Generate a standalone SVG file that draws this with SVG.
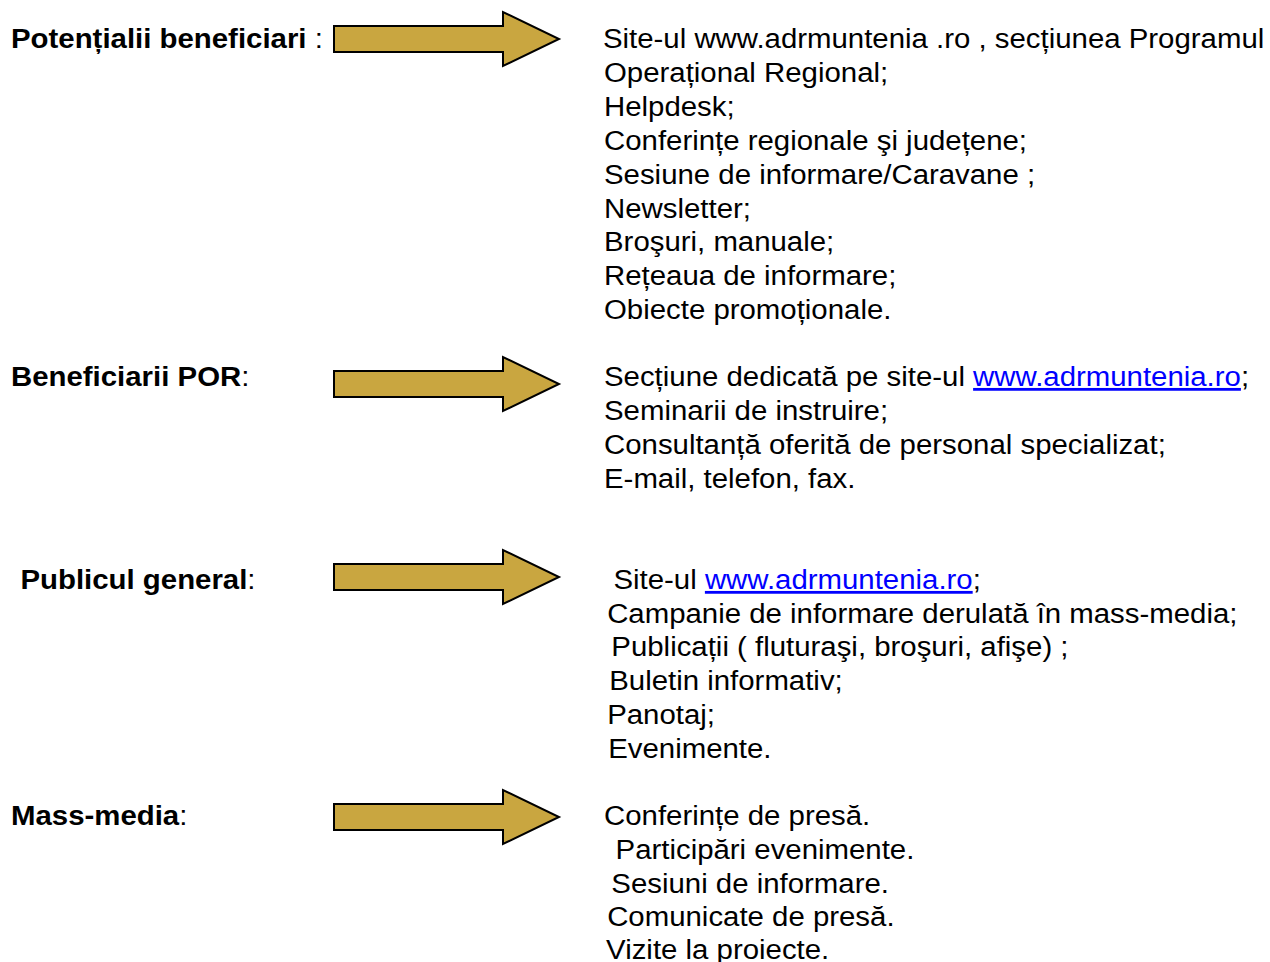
<svg xmlns="http://www.w3.org/2000/svg" width="1270" height="962" viewBox="0 0 1270 962">
<style>
text{font-family:"Liberation Sans",Arial,sans-serif;font-size:28px;fill:#000}
.b{font-weight:bold}
.lnk{fill:#0000FF;text-decoration:underline}
.arrow{fill:#C9A640;stroke:#000;stroke-width:2;stroke-linejoin:miter}
</style>
<defs>
<polygon id="arr" points="334,-13 503,-13 503,-27 559,0 503,27 503,13 334,13"/>
</defs>
<rect width="1270" height="962" fill="#fff"/>
<g id="connectors">
<use href="#arr" class="arrow" transform="translate(0,39)"/>
<use href="#arr" class="arrow" transform="translate(0,384)"/>
<use href="#arr" class="arrow" transform="translate(0,577)"/>
<use href="#arr" class="arrow" transform="translate(0,817)"/>
</g>
<g transform="matrix(1.05 0 0 1 -0.55 0)">
<g id="label-potentiali"><text x="11" y="48"><tspan class="b">Potențialii beneficiari</tspan> :</text></g>
<g id="label-beneficiari"><text x="11" y="386"><tspan class="b">Beneficiarii POR</tspan>:</text></g>
<g id="label-public"><text x="20" y="589"><tspan class="b">Publicul general</tspan>:</text></g>
<g id="label-media"><text x="11" y="825"><tspan class="b">Mass-media</tspan>:</text></g>
</g>
<g transform="matrix(1.05 0 0 1 -30.2 0)">
<g id="list-potentiali">
<text x="603" y="48">Site-ul www.adrmuntenia .ro , secțiunea Programul</text>
<text x="604" y="82">Operațional Regional;</text>
<text x="604" y="116">Helpdesk;</text>
<text x="604" y="150">Conferințe regionale şi județene;</text>
<text x="604" y="184">Sesiune de informare/Caravane ;</text>
<text x="604" y="218">Newsletter;</text>
<text x="604" y="251">Broşuri, manuale;</text>
<text x="604" y="285">Rețeaua de informare;</text>
<text x="604" y="319">Obiecte promoționale.</text>
</g>
<g id="list-beneficiari">
<text x="604" y="386">Secțiune dedicată pe site-ul <tspan class="lnk">www.adrmuntenia.ro</tspan>;</text>
<text x="604" y="420">Seminarii de instruire;</text>
<text x="604" y="454">Consultanță oferită de personal specializat;</text>
<text x="604" y="488">E-mail, telefon, fax.</text>
</g>
<g id="list-public">
<text x="613" y="589">Site-ul <tspan class="lnk">www.adrmuntenia.ro</tspan>;</text>
<text x="607" y="623">Campanie de informare derulată în mass-media;</text>
<text x="611" y="656">Publicații ( fluturaşi, broşuri, afişe) ;</text>
<text x="609" y="690">Buletin informativ;</text>
<text x="607" y="724">Panotaj;</text>
<text x="608" y="758">Evenimente.</text>
</g>
<g id="list-media">
<text x="604" y="825">Conferințe de presă.</text>
<text x="615" y="859">Participări evenimente.</text>
<text x="611" y="893">Sesiuni de informare.</text>
<text x="607" y="926">Comunicate de presă.</text>
<text x="606" y="959">Vizite la proiecte.</text>
</g>
</g>
</svg>
